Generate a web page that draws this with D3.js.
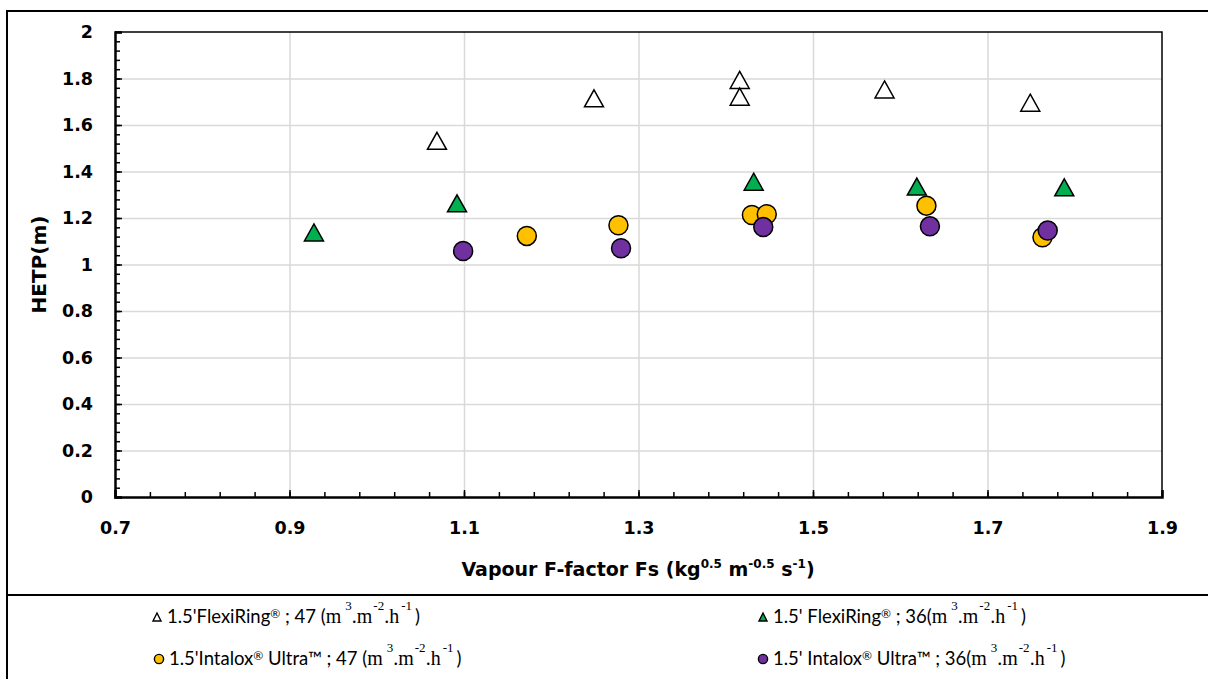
<!DOCTYPE html>
<html>
<head>
<meta charset="utf-8">
<script src="https://cdn.jsdelivr.net/npm/d3@7"></script>
<style>
  body { margin: 0; background: #fff; }
  svg { display: block; }
  .bold { font-family: "DejaVu Sans", Verdana, sans-serif; font-weight: 700; }
  .sans { font-family: Lato, "Noto Sans", sans-serif; }
  .serif { font-family: "Liberation Serif", "DejaVu Serif", serif; }
</style>
</head>
<body>
<svg id="chart" width="1208" height="679"></svg>
<script>
// HETP vs vapour F-factor for four packing / liquid-load combinations
const flexi47X   = [1.069, 1.249, 1.416, 1.416, 1.582, 1.749];
const flexi47Y   = [1.532, 1.715, 1.794, 1.722, 1.753, 1.696];
const flexi36X   = [0.928, 1.092, 1.432, 1.619, 1.788];
const flexi36Y   = [1.138, 1.263, 1.356, 1.335, 1.332];
const intalox47X = [1.172, 1.277, 1.430, 1.447, 1.630, 1.763];
const intalox47Y = [1.123, 1.169, 1.213, 1.216, 1.253, 1.117];
const intalox36X = [1.099, 1.280, 1.443, 1.634, 1.769];
const intalox36Y = [1.058, 1.070, 1.161, 1.164, 1.146];

const xTickValues = [0.7, 0.9, 1.1, 1.3, 1.5, 1.7, 1.9];
const yTickValues = [0, 0.2, 0.4, 0.6, 0.8, 1, 1.2, 1.4, 1.6, 1.8, 2];

const svg = d3.select("#chart");
const plot = { left: 115, right: 1162, top: 32, bottom: 497 };

const x = d3.scaleLinear().domain([0.7, 1.9]).range([plot.left, plot.right]);
const y = d3.scaleLinear().domain([0, 2]).range([plot.bottom, plot.top]);

// Triangle centred on its bounding box, like spreadsheet markers
function boxTriangle(w, h) {
  return {
    draw(ctx) {
      ctx.moveTo(0, -h / 2);
      ctx.lineTo(w / 2, h / 2);
      ctx.lineTo(-w / 2, h / 2);
      ctx.closePath();
    }
  };
}

// Outer frame (table-like lines)
const frame = svg.append("g").attr("stroke", "#000").attr("stroke-width", 2);
frame.append("line").attr("x1", 6).attr("x2", 1208).attr("y1", 11).attr("y2", 11);
frame.append("line").attr("x1", 7).attr("x2", 7).attr("y1", 10).attr("y2", 679);
frame.append("line").attr("x1", 6).attr("x2", 1208).attr("y1", 595).attr("y2", 595);

// Gridlines
const grid = svg.append("g");
grid.append("g")
  .attr("transform", `translate(0,${plot.bottom})`)
  .call(d3.axisBottom(x).tickValues(xTickValues.slice(1, -1))
    .tickSize(-(plot.bottom - plot.top)).tickFormat(""))
  .call(g => g.select(".domain").remove())
  .call(g => g.selectAll("line").attr("stroke", "#d9d9d9").attr("stroke-width", 1.5));
grid.append("g")
  .attr("transform", `translate(${plot.left},0)`)
  .call(d3.axisLeft(y).tickValues(yTickValues.slice(1, -1))
    .tickSize(-(plot.right - plot.left)).tickFormat(""))
  .call(g => g.select(".domain").remove())
  .call(g => g.selectAll("line").attr("stroke", "#d9d9d9").attr("stroke-width", 1.5));

// Plot area border (top and right)
svg.append("path")
  .attr("d", `M${plot.left},${plot.top}H${plot.right}V${plot.bottom}`)
  .attr("fill", "none").attr("stroke", "#000").attr("stroke-width", 1.5);

// Minor ticks every 0.04
const xMinor = d3.range(0.74, 1.9, 0.04).map(v => +v.toFixed(2));
const yMinor = d3.range(0.04, 2, 0.04).map(v => +v.toFixed(2));
svg.append("g")
  .attr("transform", `translate(0,${plot.bottom})`)
  .call(d3.axisBottom(x).tickValues(xMinor).tickSize(-5).tickFormat(""))
  .call(g => g.select(".domain").remove())
  .call(g => g.selectAll("line").attr("stroke", "#000").attr("stroke-width", 1.5));
svg.append("g")
  .attr("transform", `translate(${plot.left},0)`)
  .call(d3.axisLeft(y).tickValues(yMinor).tickSize(-5).tickFormat(""))
  .call(g => g.select(".domain").remove())
  .call(g => g.selectAll("line").attr("stroke", "#000").attr("stroke-width", 1.5));

// Main axes
const xAxis = svg.append("g")
  .attr("transform", `translate(0,${plot.bottom})`)
  .call(d3.axisBottom(x).tickValues(xTickValues).tickSize(-7).tickPadding(25)
    .tickFormat(d3.format(".1f")));
const yAxis = svg.append("g")
  .attr("transform", `translate(${plot.left},0)`)
  .call(d3.axisLeft(y).tickValues(yTickValues).tickSize(-7).tickPadding(22)
    .tickFormat(d => d3.format("~g")(d)));
[xAxis, yAxis].forEach(a => {
  a.select(".domain").attr("stroke", "#000").attr("stroke-width", 2.5);
  a.selectAll(".tick line").attr("stroke", "#000").attr("stroke-width", 1.5);
  a.selectAll(".tick text")
    .attr("class", "bold").attr("fill", "#000")
    .attr("font-size", 17.5);
});

// Axis titles
const xTitle = svg.append("text").attr("class", "bold")
  .attr("x", 638).attr("y", 576).attr("text-anchor", "middle")
  .attr("font-size", 19).attr("fill", "#000");
xTitle.append("tspan").text("Vapour F-factor Fs (kg");
xTitle.append("tspan").attr("font-size", 12).attr("dy", -8).text("0.5");
xTitle.append("tspan").attr("dy", 8).text(" m");
xTitle.append("tspan").attr("font-size", 12).attr("dy", -8).text("-0.5");
xTitle.append("tspan").attr("dy", 8).text(" s");
xTitle.append("tspan").attr("font-size", 12).attr("dy", -8).text("-1");
xTitle.append("tspan").attr("dy", 8).text(")");

svg.append("text").attr("class", "bold")
  .attr("transform", `translate(46,${(plot.top + plot.bottom) / 2}) rotate(-90)`)
  .attr("text-anchor", "middle")
  .attr("font-size", 20).attr("fill", "#000")
  .text("HETP(m)");

// Series
const series = [
  { xs: flexi47X,   ys: flexi47Y,   shape: "tri",    fill: "#ffffff" },
  { xs: flexi36X,   ys: flexi36Y,   shape: "tri",    fill: "#00b050" },
  { xs: intalox47X, ys: intalox47Y, shape: "circle", fill: "#ffc000" },
  { xs: intalox36X, ys: intalox36Y, shape: "circle", fill: "#7030a0" }
];
const bigTri = d3.symbol().type(boxTriangle(19, 17));
const bigCircle = d3.symbol().type(d3.symbolCircle).size(Math.PI * 9.5 * 9.5);

series.forEach(s => {
  svg.append("g").selectAll("path")
    .data(s.xs.map((v, i) => [v, s.ys[i]]))
    .join("path")
    .attr("transform", d => `translate(${x(d[0])},${y(d[1])})`)
    .attr("d", s.shape === "tri" ? bigTri() : bigCircle())
    .attr("fill", s.fill).attr("stroke", "#000").attr("stroke-width", 1.5)
    .attr("stroke-linejoin", "miter");
});

// Legend
const legendItems = [
  { shape: "tri",    fill: "#ffffff", x: 157, y: 623, name: "1.5'FlexiRing® ; 47 (" },
  { shape: "tri",    fill: "#00b050", x: 763, y: 623, name: "1.5' FlexiRing® ; 36(" },
  { shape: "circle", fill: "#ffc000", x: 159, y: 665, name: "1.5'Intalox® Ultra™ ; 47 (" },
  { shape: "circle", fill: "#7030a0", x: 763, y: 665, name: "1.5' Intalox® Ultra™ ; 36(" }
];
const smallTri = d3.symbol().type(boxTriangle(8, 8));
const smallCircle = d3.symbol().type(d3.symbolCircle).size(Math.PI * 4.6 * 4.6);
const rise = 13;

legendItems.forEach(it => {
  const g = svg.append("g");
  g.append("path")
    .attr("transform", `translate(${it.x},${it.y - 6})`)
    .attr("d", it.shape === "tri" ? smallTri() : smallCircle())
    .attr("fill", it.fill).attr("stroke", "#000").attr("stroke-width", 1.4);
  const t = g.append("text").attr("x", it.x + 10).attr("y", it.y)
    .attr("font-size", 18.5).attr("fill", "#000");
  // ® is set small and raised
  let raised = false;
  it.name.split(/(®)/).filter(p => p !== "").forEach(p => {
    const ts = t.append("tspan").attr("class", "sans").text(p);
    if (p === "®") { ts.attr("font-size", 12).attr("dy", -5); raised = true; }
    else if (raised) { ts.attr("dy", 5); raised = false; }
  });
  t.append("tspan").attr("class", "serif").attr("font-size", 20).text("m");
  t.append("tspan").attr("class", "serif").attr("font-size", 13)
    .attr("dx", 4).attr("dy", -rise).text("3");
  t.append("tspan").attr("class", "serif").attr("font-size", 20)
    .attr("dy", rise).text(".m");
  t.append("tspan").attr("class", "serif").attr("font-size", 13)
    .attr("dx", 1).attr("dy", -rise).text("-2");
  t.append("tspan").attr("class", "serif").attr("font-size", 20)
    .attr("dy", rise).text(".h");
  t.append("tspan").attr("class", "serif").attr("font-size", 13)
    .attr("dx", 2).attr("dy", -rise).text("-1");
  t.append("tspan").attr("class", "sans").attr("dx", 3)
    .attr("dy", rise).text(")");
});
</script>
</body>
</html>
